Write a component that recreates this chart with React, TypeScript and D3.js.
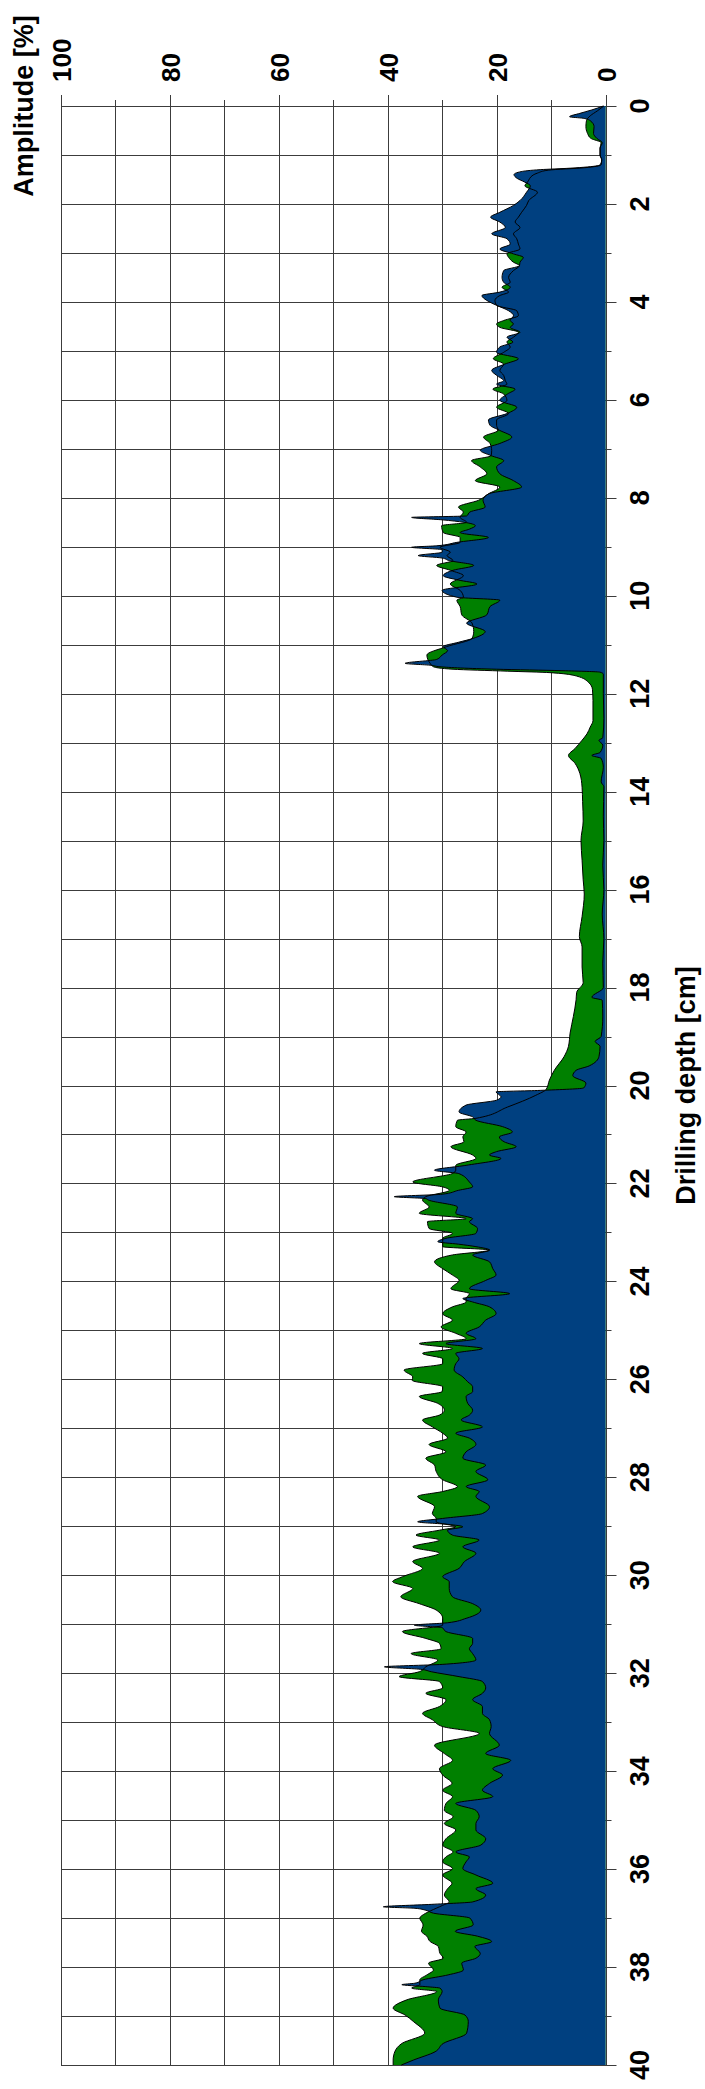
import React from "react";
import * as d3 from "d3";

// ---- Data ----
const depthTicks = d3.range(0, 41, 1);
const depthLabels = d3.range(0, 41, 2);
const ampTicks = d3.range(0, 101, 10);
const ampLabels = d3.range(0, 101, 20);

// Blue series (A)
const blueDepth = [
  0.0, 0.08, 0.15, 0.22, 0.25, 0.3, 0.42, 0.56, 0.66, 0.75, 0.86, 1.0, 1.1, 1.2, 1.22, 1.27, 1.3, 1.34, 1.4, 1.48,
  1.55, 1.63, 1.76, 1.93, 2.03, 2.17, 2.27, 2.37, 2.48, 2.61, 2.71, 2.82, 2.92, 3.02, 3.09, 3.19, 3.26, 3.36, 3.5, 3.6,
  3.7, 3.8, 3.87, 3.97, 4.07, 4.18, 4.28, 4.38, 4.45, 4.52, 4.62, 4.72, 4.82, 4.92, 5.03, 5.16, 5.27, 5.4, 5.5, 5.61,
  5.68, 5.78, 5.88, 6.01, 6.15, 6.28, 6.41, 6.52, 6.62, 6.76, 6.89, 7.03, 7.14, 7.24, 7.37, 7.51, 7.65, 7.78, 7.92, 8.05,
  8.19, 8.29, 8.37, 8.4, 8.45, 8.5, 8.57, 8.64, 8.71, 8.81, 8.91, 8.98, 9.01, 9.06, 9.11, 9.18, 9.23, 9.28, 9.38, 9.48,
  9.59, 9.68, 9.76, 9.89, 10.03, 10.09, 10.22, 10.39, 10.56, 10.73, 10.87, 10.95, 11.04, 11.12, 11.21, 11.3, 11.38, 11.42, 11.45, 11.5,
  11.53, 11.56, 11.6, 12.0, 12.5, 12.9, 12.95, 13.05, 13.2, 13.26, 13.32, 13.5, 13.8, 13.9, 14.5, 15.0, 15.5, 16.0, 16.5, 17.0,
  17.5, 18.0, 18.2, 18.26, 18.6, 19.0, 19.1, 19.2, 19.41, 19.6, 19.69, 19.8, 19.95, 20.05, 20.1, 20.13, 20.23, 20.3, 20.4, 20.54,
  20.64, 20.71, 20.84, 20.95, 21.05, 21.15, 21.25, 21.35, 21.42, 21.49, 21.63, 21.73, 21.8, 21.97, 22.07, 22.14, 22.22, 22.27, 22.31, 22.34,
  22.48, 22.61, 22.72, 22.78, 22.92, 23.02, 23.12, 23.19, 23.24, 23.29, 23.36, 23.46, 23.6, 23.74, 23.87, 23.98, 24.15, 24.25, 24.35, 24.42,
  24.52, 24.66, 24.79, 24.93, 25.06, 25.17, 25.27, 25.37, 25.47, 25.58, 25.68, 25.81, 25.95, 26.05, 26.15, 26.25, 26.35, 26.49, 26.63, 26.73,
  26.83, 26.97, 27.1, 27.2, 27.33, 27.48, 27.61, 27.75, 27.88, 28.05, 28.19, 28.29, 28.39, 28.6, 28.74, 28.84, 28.91, 28.96, 29.01, 29.08,
  29.18, 29.28, 29.42, 29.55, 29.72, 29.86, 30.03, 30.13, 30.27, 30.44, 30.58, 30.71, 30.88, 30.97, 31.02, 31.07, 31.15, 31.29, 31.39, 31.5,
  31.6, 31.73, 31.82, 31.87, 31.92, 31.97, 32.07, 32.17, 32.3, 32.41, 32.54, 32.68, 32.82, 32.95, 33.09, 33.23, 33.47, 33.64, 33.78, 33.95,
  34.08, 34.25, 34.39, 34.52, 34.66, 34.8, 34.93, 35.07, 35.2, 35.38, 35.51, 35.65, 35.75, 35.85, 35.99, 36.12, 36.29, 36.4, 36.53, 36.67,
  36.72, 36.77, 36.8, 36.84, 36.9, 37.0, 37.14, 37.27, 37.37, 37.48, 37.58, 37.72, 37.82, 37.92, 38.06, 38.16, 38.26, 38.33, 38.36, 38.4,
  38.43, 38.5, 38.67, 38.84, 38.98, 39.11, 39.35, 39.56, 39.73, 39.9, 40.0,
];
const blueAmp = [
  0.4, 2.5, 4.7, 6.6, 4.1, 2.8, 2.1, 2.2, 1.6, 0.6, 1.0, 1.0, 0.7, 1.0, 1.5, 6.5, 12.0, 15.5, 16.8, 16.2,
  14.9, 13.8, 14.5, 15.7, 16.9, 19.4, 21.1, 19.4, 18.4, 20.9, 18.1, 17.5, 19.4, 16.9, 15.1, 15.7, 15.8, 18.7, 19.0, 18.7,
  17.5, 19.4, 22.7, 21.8, 20.0, 17.8, 16.9, 17.5, 16.9, 17.5, 15.7, 18.1, 17.0, 19.4, 20.0, 16.0, 18.5, 20.9, 20.0, 18.7,
  20.0, 16.6, 18.0, 19.4, 16.3, 18.1, 21.5, 21.2, 19.5, 17.2, 19.4, 23.0, 21.0, 18.7, 20.0, 19.4, 16.9, 15.4, 21.5, 22.5,
  22.1, 24.9, 25.5, 35.6, 30.0, 26.0, 23.9, 25.0, 26.7, 21.5, 27.3, 31.0, 35.6, 30.0, 30.0, 34.4, 30.0, 28.8, 24.2, 28.0,
  29.8, 27.0, 23.6, 30.0, 27.3, 19.4, 21.2, 21.8, 25.5, 22.1, 24.3, 27.0, 29.8, 29.0, 30.0, 31.0, 36.8, 32.0, 30.4, 20.0,
  8.0, 1.0, 0.4, 0.4, 0.3, 0.5, 1.2, 0.5, 1.0, 2.5, 0.8, 0.4, 0.8, 0.3, 0.4, 0.3, 0.5, 0.3, 0.6, 0.3,
  0.5, 0.4, 2.5, 0.6, 0.5, 0.8, 1.9, 1.0, 1.2, 3.0, 5.4, 6.0, 3.6, 4.0, 12.0, 20.1, 19.2, 20.0, 25.6, 26.9,
  24.4, 23.8, 18.9, 17.1, 19.5, 18.6, 16.4, 20.0, 21.3, 19.2, 25.6, 31.4, 26.9, 25.0, 24.4, 27.0, 30.0, 38.8, 33.0, 32.5,
  27.2, 27.5, 24.4, 25.0, 23.5, 23.8, 29.3, 30.8, 27.0, 23.8, 21.3, 24.4, 21.3, 20.7, 20.1, 22.0, 25.0, 17.6, 26.2, 24.4,
  21.3, 20.1, 22.0, 23.2, 25.6, 23.8, 29.3, 22.6, 27.5, 26.9, 27.5, 27.8, 26.2, 25.3, 24.4, 24.4, 25.6, 25.3, 24.4, 25.0,
  26.5, 22.6, 27.5, 25.0, 23.8, 25.6, 26.2, 22.0, 23.8, 21.6, 25.6, 23.2, 23.8, 21.3, 22.6, 29.9, 34.5, 29.0, 26.2, 29.0,
  28.1, 23.2, 26.2, 23.8, 25.9, 26.9, 29.9, 28.7, 28.7, 28.1, 24.4, 22.9, 25.6, 29.0, 35.1, 30.0, 29.3, 24.4, 24.4, 25.0,
  24.4, 23.8, 30.0, 40.6, 34.0, 32.0, 26.9, 22.6, 22.0, 22.6, 24.4, 22.6, 22.6, 21.3, 21.0, 21.3, 19.5, 22.0, 17.4, 20.7,
  18.9, 21.3, 22.6, 20.7, 27.5, 23.8, 23.2, 23.8, 23.8, 22.0, 22.9, 27.5, 25.0, 25.6, 26.2, 23.8, 20.7, 23.8, 22.0, 24.4,
  32.0, 40.8, 35.0, 33.0, 31.6, 24.9, 24.3, 27.6, 23.5, 20.9, 24.0, 23.0, 23.8, 26.4, 26.1, 28.9, 33.5, 35.0, 37.4, 33.0,
  30.4, 30.0, 30.7, 30.4, 25.8, 25.2, 25.5, 29.8, 31.3, 35.3, 37.5,
];

// Green series (B, black line)
const greenDepth = [
  0.0, 0.1, 0.2, 0.3, 0.42, 0.56, 0.66, 0.75, 0.86, 1.0, 1.1, 1.2, 1.26, 1.31, 1.37, 1.41, 1.55, 1.63, 1.76, 1.93,
  2.03, 2.17, 2.27, 2.37, 2.48, 2.61, 2.71, 2.82, 2.92, 3.02, 3.09, 3.19, 3.26, 3.36, 3.5, 3.6, 3.7, 3.8, 3.87, 3.97,
  4.07, 4.18, 4.28, 4.38, 4.45, 4.52, 4.62, 4.72, 4.82, 4.92, 5.03, 5.16, 5.27, 5.4, 5.5, 5.61, 5.68, 5.78, 5.88, 6.01,
  6.15, 6.28, 6.41, 6.52, 6.62, 6.76, 6.89, 7.03, 7.14, 7.24, 7.37, 7.51, 7.65, 7.78, 7.92, 8.05, 8.19, 8.29, 8.4, 8.5,
  8.57, 8.71, 8.81, 8.91, 9.01, 9.11, 9.18, 9.28, 9.38, 9.48, 9.59, 9.76, 9.89, 10.03, 10.09, 10.22, 10.39, 10.56, 10.73, 10.87,
  11.04, 11.21, 11.38, 11.45, 11.5, 11.54, 11.57, 11.64, 11.77, 11.91, 12.14, 12.55, 12.68, 12.82, 12.95, 13.12, 13.26, 13.42, 13.63, 13.91,
  14.2, 14.6, 15.0, 15.4, 15.8, 16.09, 16.55, 16.96, 17.17, 17.58, 17.9, 18.1, 18.25, 18.59, 18.93, 19.2, 19.41, 19.69, 19.89, 20.08,
  20.2, 20.44, 20.67, 20.71, 20.84, 20.95, 21.05, 21.15, 21.25, 21.42, 21.49, 21.63, 21.73, 21.8, 21.97, 22.07, 22.14, 22.27, 22.34, 22.48,
  22.61, 22.72, 22.78, 22.92, 23.02, 23.12, 23.19, 23.29, 23.36, 23.46, 23.6, 23.74, 23.87, 23.98, 24.15, 24.25, 24.35, 24.42, 24.52, 24.66,
  24.79, 24.93, 25.06, 25.17, 25.27, 25.37, 25.47, 25.58, 25.68, 25.81, 25.95, 26.02, 26.15, 26.25, 26.35, 26.49, 26.63, 26.73, 26.83, 26.97,
  27.1, 27.2, 27.33, 27.48, 27.61, 27.75, 27.88, 28.05, 28.19, 28.29, 28.39, 28.6, 28.74, 28.84, 28.91, 29.01, 29.08, 29.18, 29.28, 29.42,
  29.55, 29.72, 29.86, 30.03, 30.13, 30.27, 30.44, 30.58, 30.71, 30.88, 31.02, 31.15, 31.29, 31.39, 31.5, 31.6, 31.73, 31.87, 31.97, 32.07,
  32.17, 32.3, 32.41, 32.54, 32.68, 32.82, 32.95, 33.09, 33.23, 33.47, 33.64, 33.78, 33.95, 34.08, 34.25, 34.39, 34.52, 34.66, 34.8, 34.93,
  35.07, 35.2, 35.38, 35.51, 35.65, 35.75, 35.85, 35.99, 36.12, 36.29, 36.4, 36.53, 36.67, 36.74, 36.8, 36.9, 37.0, 37.14, 37.27, 37.37,
  37.48, 37.58, 37.72, 37.82, 37.92, 38.06, 38.16, 38.26, 38.36, 38.43, 38.5, 38.67, 38.84, 38.98, 39.11, 39.35, 39.56, 39.73, 39.9, 40.0,
];
const greenAmp = [
  0.3, 1.5, 2.8, 3.5, 3.6, 3.3, 2.7, 0.8, 1.0, 1.0, 0.7, 0.8, 3.8, 10.5, 12.5, 13.3, 14.3, 14.8, 12.5, 14.1,
  14.5, 15.4, 16.0, 16.6, 15.7, 16.9, 16.3, 16.0, 15.7, 18.1, 17.8, 16.9, 15.8, 16.9, 17.8, 17.5, 19.0, 17.8, 19.4, 20.3,
  20.0, 16.3, 16.0, 18.7, 20.0, 19.4, 16.0, 16.9, 18.1, 17.5, 18.7, 20.6, 18.7, 19.4, 18.7, 18.4, 18.1, 20.7, 18.7, 18.1,
  20.0, 17.8, 20.0, 20.0, 19.7, 22.4, 21.2, 20.9, 21.0, 24.6, 23.0, 21.8, 23.9, 19.4, 21.5, 23.3, 27.0, 26.1, 26.7, 25.5,
  30.1, 29.8, 26.7, 26.7, 30.4, 28.5, 29.1, 28.0, 31.0, 28.5, 26.1, 28.5, 26.7, 26.1, 27.3, 26.7, 26.4, 24.5, 24.2, 24.5,
  29.2, 32.8, 32.2, 31.6, 28.0, 18.0, 10.2, 5.3, 3.1, 2.4, 2.3, 2.3, 2.8, 3.4, 4.3, 5.6, 6.8, 5.6, 4.7, 4.3,
  4.2, 4.1, 4.5, 4.3, 4.1, 3.9, 4.3, 4.8, 4.3, 4.3, 4.1, 5.3, 5.4, 5.9, 6.5, 6.8, 7.6, 9.4, 10.3, 10.9,
  12.8, 18.0, 23.8, 27.2, 27.5, 25.6, 26.2, 26.0, 28.4, 24.4, 23.8, 27.5, 27.5, 28.2, 35.4, 29.9, 28.7, 33.0, 33.6, 32.4,
  34.2, 25.6, 32.7, 32.4, 28.1, 29.9, 29.9, 29.9, 21.3, 28.1, 31.4, 29.9, 28.1, 26.9, 28.4, 25.0, 25.6, 25.6, 28.1, 29.9,
  28.1, 30.2, 27.5, 25.6, 34.2, 28.1, 33.6, 29.9, 29.9, 37.0, 35.4, 35.5, 29.9, 30.0, 34.2, 30.8, 29.6, 30.5, 33.6, 31.8,
  29.9, 29.0, 32.4, 29.3, 33.0, 31.4, 31.1, 29.9, 27.2, 29.9, 34.5, 31.4, 31.8, 31.1, 31.1, 27.5, 30.5, 34.8, 30.5, 35.4,
  30.5, 35.4, 33.6, 37.3, 39.1, 35.4, 37.6, 34.2, 31.1, 29.9, 29.9, 37.3, 33.0, 30.5, 30.2, 35.7, 30.8, 33.0, 34.2, 37.9,
  30.5, 29.9, 33.0, 29.3, 30.5, 33.6, 31.8, 29.9, 23.2, 31.4, 29.6, 28.1, 30.5, 29.9, 28.2, 29.9, 28.1, 29.3, 29.6, 28.0,
  29.6, 27.5, 29.3, 29.9, 28.0, 29.3, 29.9, 28.1, 29.9, 28.2, 29.0, 29.6, 28.7, 29.9, 31.1, 33.0, 34.1, 33.5, 33.8, 32.8,
  32.2, 30.7, 30.4, 29.8, 32.5, 31.6, 32.8, 34.1, 34.1, 35.6, 31.0, 36.5, 39.0, 36.8, 35.3, 33.2, 37.4, 38.7, 39.0, 39.0,
];

const BLUE = "#004080";
const GREEN = "#008000";
const GRID = "#3c3c3c";
const FONT = "'Liberation Sans', Arial, Helvetica, sans-serif";

export default function App() {
  const W = 705;
  const H = 2089;
  const x = d3.scaleLinear().domain([0, 100]).range([605.5, 61]);
  const y = d3.scaleLinear().domain([0, 40]).range([106, 2065]);

  const blue = blueDepth.map((d, i) => ({ d, v: blueAmp[i] }));
  const green = greenDepth.map((d, i) => ({ d, v: greenAmp[i] }));

  const area = d3
    .area<{ d: number; v: number }>()
    .y((p) => y(p.d))
    .x0(x(0))
    .x1((p) => x(p.v))
    .curve(d3.curveMonotoneY);
  const line = d3
    .line<{ d: number; v: number }>()
    .y((p) => y(p.d))
    .x((p) => x(p.v))
    .curve(d3.curveMonotoneY);

  const x0 = x(0);
  const x100 = x(100);
  const y0 = y(0);
  const y40 = y(40);
  const snap = (v: number) => Math.round(v) + 0.5;

  return (
    <svg
      width={W}
      height={H}
      viewBox={`0 0 ${W} ${H}`}
      style={{ position: "absolute", left: 0, top: 0, display: "block", background: "#fff" }}
      fontFamily={FONT}
      fontWeight="bold"
    >
      {/* grid */}
      <g stroke={GRID} strokeWidth={1}>
        {ampTicks.map((t) => (
          <line
            key={"v" + t}
            x1={snap(x(t))}
            x2={snap(x(t))}
            y1={y0 - (t % 20 === 0 ? 11 : 6)}
            y2={y40}
          />
        ))}
        {depthTicks.map((t) => (
          <line
            key={"h" + t}
            x1={x100}
            x2={x0 + (t % 2 === 0 ? 11 : 6)}
            y1={snap(y(t))}
            y2={snap(y(t))}
          />
        ))}
      </g>

      {/* series */}
      <path d={area(green) || ""} fill={GREEN} />
      <path d={area(blue) || ""} fill={BLUE} />
      <path d={line(green) || ""} fill="none" stroke="#000" strokeWidth={1} />
      <path d={line(blue) || ""} fill="none" stroke="#000" strokeWidth={1} />

      {/* amplitude tick labels */}
      {ampLabels.map((t) => (
        <text
          key={"al" + t}
          transform={`translate(${x(t) + 10},82) rotate(-90)`}
          textAnchor="start"
          fontSize={26}
          fill="#000"
        >
          {t}
        </text>
      ))}

      {/* depth tick labels */}
      {depthLabels.map((t) => (
        <text
          key={"dl" + t}
          transform={`translate(649,${y(t)}) rotate(-90)`}
          textAnchor="middle"
          fontSize={27}
          fill="#000"
        >
          {t}
        </text>
      ))}

      {/* axis titles */}
      <text
        transform={`translate(33,${y0}) rotate(-90)`}
        textAnchor="middle"
        fontSize={27}
        fill="#000"
      >
        Amplitude [%]
      </text>
      <text
        transform={`translate(695,${(y0 + y40) / 2}) rotate(-90)`}
        textAnchor="middle"
        fontSize={27}
        fill="#000"
      >
        Drilling depth [cm]
      </text>
    </svg>
  );
}
